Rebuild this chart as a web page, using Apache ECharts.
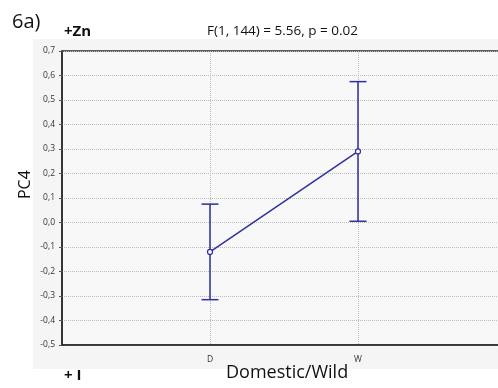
<!DOCTYPE html>
<html>
<head>
<meta charset="utf-8">
<script src="https://cdn.jsdelivr.net/npm/echarts@6/dist/echarts.min.js"></script>
<style>html,body{margin:0;padding:0;background:#fff}#c{width:498px;height:388px}</style>
</head>
<body>
<div id="c"></div>
<script>
const categories = ['D', 'W'];
const means = [-0.12, 0.29];
const upper = [0.075, 0.575];
const lower = [-0.315, 0.005];
const yTicks = { min: -0.5, max: 0.7, interval: 0.1 };

const axisCats = [''].concat(categories, ['']);
const lineData = categories.map((c, i) => [c, means[i]]);
const errData = categories.map((c, i) => [c, lower[i], upper[i]]);
const blue = '#2f2f9e';

const chart = echarts.init(document.getElementById('c'), null, { renderer: 'canvas' });
chart.setOption({
  animation: false,
  backgroundColor: '#fff',
  textStyle: { fontFamily: 'Open Sans' },
  graphic: [
    { type: 'rect', z: -10, shape: { x: 33, y: 39, width: 470, height: 330 }, style: { fill: '#f5f5f5' } },
    { type: 'text', left: 12, top: 12, style: { text: '6a)', font: '20px "Open Sans"', fill: '#111' } },
    { type: 'text', left: 64, top: 24, style: { text: '+Zn', font: 'bold 15px "Open Sans"', fill: '#111' } },
    { type: 'text', left: 207, top: 24, style: { text: 'F(1, 144) = 5.56, p = 0.02', font: '13.5px "Open Sans"', fill: '#111' } },
    { type: 'text', left: 64, top: 368, style: { text: '+ I', font: 'bold 15px "Open Sans"', fill: '#111' } },
    { type: 'text', left: 226, top: 364, style: { text: 'Domestic/Wild', font: '18px "Open Sans"', fill: '#111' } },
    { type: 'text', x: 17, y: 199, rotation: Math.PI / 2, style: { text: 'PC4', font: '16px "Open Sans"', fill: '#111' } }
  ],
  grid: { left: 62, top: 51, right: -8, bottom: 43, outerBoundsMode: 'none', show: true, backgroundColor: '#f8f8f8', borderColor: '#2a2a2a', borderWidth: 1.5 },
  xAxis: {
    type: 'category', data: axisCats, boundaryGap: false,
    axisLine: { show: true, onZero: false, lineStyle: { color: '#2a2a2a', width: 1.5 } },
    axisTick: { show: false },
    axisLabel: { color: '#333', fontSize: 8.5, margin: 10, interval: 0 },
    splitLine: { show: true, interval: (i) => i === 1 || i === 2, lineStyle: { color: '#bbb', type: 'dotted', width: 1 } }
  },
  yAxis: {
    type: 'value', min: yTicks.min, max: yTicks.max, interval: yTicks.interval,
    axisLine: { show: true, lineStyle: { color: '#2a2a2a', width: 1.5 } },
    axisTick: { show: true, length: 3, lineStyle: { color: '#555' } },
    axisLabel: { color: '#333', fontSize: 8.5, margin: 7, formatter: v => v.toFixed(1).replace('.', ',') },
    splitLine: { show: true, lineStyle: { color: '#bbb', type: 'dotted', width: 1 } }
  },
  series: [
    {
      type: 'custom', z: 3,
      data: errData,
      renderItem: function (params, api) {
        const x = api.value(0);
        const lo = api.coord([x, api.value(1)]);
        const hi = api.coord([x, api.value(2)]);
        const w = 8.5;
        const st = { stroke: blue, lineWidth: 1.5 };
        return { type: 'group', children: [
          { type: 'line', shape: { x1: hi[0], y1: hi[1], x2: lo[0], y2: lo[1] }, style: st },
          { type: 'line', shape: { x1: hi[0] - w, y1: hi[1], x2: hi[0] + w, y2: hi[1] }, style: st },
          { type: 'line', shape: { x1: lo[0] - w, y1: lo[1], x2: lo[0] + w, y2: lo[1] }, style: st }
        ] };
      }
    },
    {
      type: 'line', z: 4, data: lineData,
      symbol: 'circle', symbolSize: 5,
      lineStyle: { color: blue, width: 1.5 },
      itemStyle: { color: '#fff', borderColor: blue, borderWidth: 1.2 }
    }
  ]
});
</script>
</body>
</html>
